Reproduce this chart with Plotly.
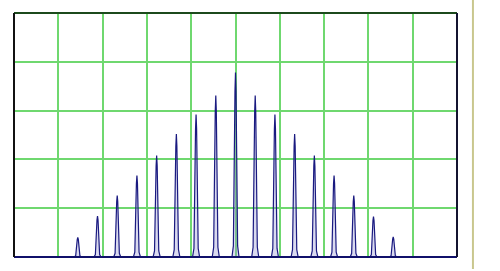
import plotly.graph_objects as go

# Data
peak_centers = [1.44, 1.885, 2.33, 2.775, 3.22, 3.665, 4.11, 4.555, 5.0,
                5.445, 5.89, 6.335, 6.78, 7.225, 7.67, 8.115, 8.56]
peak_heights = [0.40, 0.84, 1.26, 1.67, 2.08, 2.52, 2.92, 3.31, 3.78,
                3.31, 2.92, 2.52, 2.08, 1.67, 1.26, 0.83, 0.41]
x_range = [0, 10]
y_range = [0, 5]

HALF_BASE = 0.08    # half width of each spike at its base (style)
TOP_W = 0.012

fig = go.Figure()
for c, h in zip(peak_centers, peak_heights):
    xs = [c - HALF_BASE, c - HALF_BASE * 0.6, c - TOP_W, c, c + TOP_W, c + HALF_BASE * 0.6, c + HALF_BASE]
    ys = [0, h * 0.06, h * 0.9, h, h * 0.9, h * 0.06, 0]
    fig.add_trace(go.Scatter(
        x=xs, y=ys, mode="lines", fill="toself",
        fillcolor="rgba(150,150,210,0.35)",
        line=dict(color="#1a1a80", width=1.2),
        hoverinfo="skip", showlegend=False,
    ))

fig.update_xaxes(range=x_range, dtick=1, showgrid=True, gridcolor="#6fd86f", gridwidth=1.5,
                 showticklabels=False, zeroline=False, showline=False, ticks="")
fig.update_yaxes(range=y_range, dtick=1, showgrid=True, gridcolor="#6fd86f", gridwidth=1.5,
                 showticklabels=False, zeroline=False, showline=False, ticks="")

shapes = [
    dict(type="line", xref="paper", yref="paper", x0=0, x1=1, y0=1, y1=1,
         line=dict(color="#1c4a1c", width=2)),
    dict(type="line", xref="paper", yref="paper", x0=0, x1=1, y0=0, y1=0,
         line=dict(color="#10106a", width=2)),
    dict(type="line", xref="paper", yref="paper", x0=0, x1=0, y0=0, y1=1,
         line=dict(color="#111111", width=2)),
    dict(type="line", xref="paper", yref="paper", x0=1, x1=1, y0=0, y1=1,
         line=dict(color="#141430", width=2)),
    dict(type="line", xref="paper", yref="paper", x0=1.036, x1=1.036, y0=-0.049, y1=1.06,
         line=dict(color="#c9c78e", width=2)),
]

fig.update_layout(
    width=500, height=271,
    margin=dict(l=14, r=43, t=13, b=14),
    paper_bgcolor="white", plot_bgcolor="white",
    shapes=shapes,
)

fig.write_html("out.html")
